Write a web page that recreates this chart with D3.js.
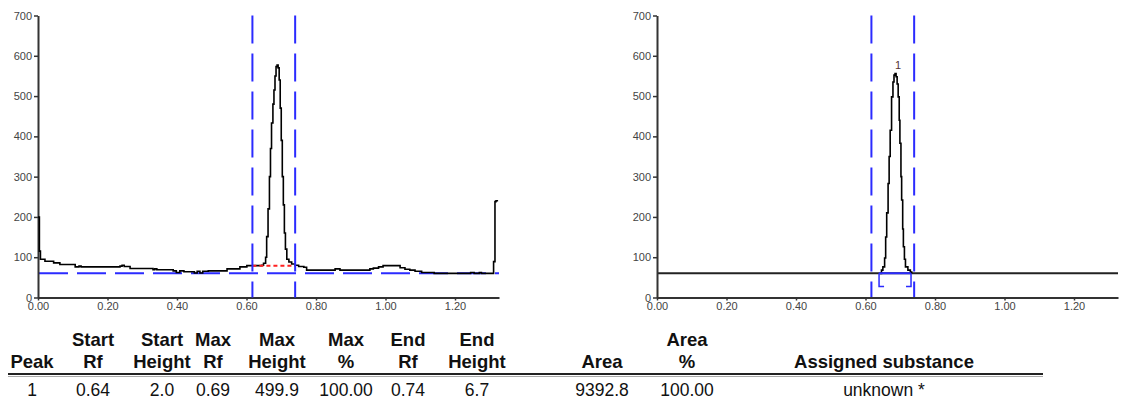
<!DOCTYPE html>
<html lang="en">
<head>
<meta charset="utf-8">
<title>Densitogram</title>
<script src="https://d3js.org/d3.v7.min.js"></script>
<style>
  body { margin: 0; background: #fff; }
  svg text { font-family: "Liberation Sans", Arial, sans-serif; }
</style>
</head>
<body>
<script>

// raw track, left panel (Rf, AU) - step data
var rawRf = [0.000, 0.004, 0.007, 0.020, 0.045, 0.063, 0.107, 0.118, 0.124, 0.236,
             0.242, 0.248, 0.265, 0.331, 0.336, 0.342, 0.389, 0.398, 0.408, 0.420,
             0.450, 0.458, 0.466, 0.474, 0.490, 0.544, 0.581, 0.601, 0.644, 0.649,
             0.655, 0.658, 0.662, 0.666, 0.669, 0.672, 0.676, 0.679, 0.682, 0.685,
             0.688, 0.691, 0.694, 0.697, 0.700, 0.703, 0.706, 0.709, 0.712, 0.716,
             0.722, 0.730, 0.740, 0.750, 0.765, 0.773, 0.855, 0.869, 0.955, 0.965,
             0.980, 0.993, 1.042, 1.056, 1.070, 1.085, 1.104, 1.140, 1.245, 1.255,
             1.270, 1.276, 1.311, 1.315, 1.318, 1.324];
var rawAU = [200, 115, 95, 90, 86, 82, 76, 78, 76, 78,
             80, 77, 72, 69, 71, 69, 66, 62, 66, 64,
             61, 65, 61, 65, 66, 71, 76, 79, 80, 85,
             100, 151, 220, 300, 370, 433, 480, 515, 550, 573,
             577, 570, 540, 470, 390, 300, 230, 160, 120, 95,
             88, 83, 80, 77, 75, 68, 71, 68, 71, 73,
             76, 79, 74, 70, 68, 65, 62, 60, 62, 60,
             62, 60, 89, 238, 240, 240];

// integrated peak, right panel (Rf, AU)
var peakRf = [0.641, 0.646, 0.650, 0.655, 0.658, 0.661, 0.665, 0.668, 0.671, 0.675,
              0.679, 0.682, 0.685, 0.688, 0.691, 0.694, 0.697, 0.699, 0.702, 0.704,
              0.707, 0.709, 0.712, 0.715, 0.722, 0.729, 0.733];
var peakAU = [60, 68, 76, 98, 150, 210, 283, 350, 415, 498,
              535, 552, 556, 548, 530, 498, 440, 383, 300, 242,
              170, 126, 95, 76, 68, 63, 60];

var baselineAU = 60;
var peakBaseAU = 79;
var windowRf = [0.617, 0.740];
var bracketRf = [0.639, 0.731];
var bracketLowAU = 27;
var peakLabel = "1";

var xTicks = [0, 0.2, 0.4, 0.6, 0.8, 1.0, 1.2];
var yTicks = [0, 100, 200, 300, 400, 500, 600, 700];

// result table
var head1 = ["", "Start", "Start", "Max", "Max", "Max", "End", "End", "", "Area", ""];
var head2 = ["Peak", "Rf", "Height", "Rf", "Height", "%", "Rf", "Height", "Area", "%", "Assigned substance"];
var row1  = ["1", "0.64", "2.0", "0.69", "499.9", "100.00", "0.74", "6.7", "9392.8", "100.00", "unknown *"];

// layout
var w = 1125, h = 401;
var yTop = 15.5, yBottom = 297.5;
var rfMax = 1.3266;
var colX = [32, 93, 162, 213, 277, 346, 408, 477, 602, 687, 884];

var blue = "#2b2bff";

var svg = d3.select("body").append("svg")
    .attr("width", w)
    .attr("height", h);

var yScale = d3.scaleLinear().domain([0, 700]).range([yBottom, yTop]);

function drawAxes(g, xScale) {
  var xa = g.append("g")
      .attr("transform", "translate(0," + yBottom + ")")
      .call(d3.axisBottom(xScale).tickValues(xTicks).tickFormat(d3.format(".2f"))
            .tickSize(3).tickSizeOuter(0).tickPadding(2));
  var ya = g.append("g")
      .attr("transform", "translate(" + xScale.range()[0] + ",0)")
      .call(d3.axisLeft(yScale).tickValues(yTicks).tickSize(4).tickSizeOuter(0).tickPadding(2));
  [xa, ya].forEach(function(a) {
    a.attr("font-family", null).attr("font-size", null);
    a.select(".domain").attr("stroke", "#333").attr("stroke-width", 2);
    a.selectAll(".tick line").attr("stroke", "#333").attr("stroke-width", 1.5);
    a.selectAll(".tick text").attr("fill", "#444").style("font-size", "11px");
  });
}

function vDashed(g, xScale) {
  g.selectAll(".win")
    .data(windowRf)
    .enter()
    .append("line")
    .attr("x1", function(d) { return xScale(d); })
    .attr("x2", function(d) { return xScale(d); })
    .attr("y1", yTop)
    .attr("y2", yBottom)
    .attr("stroke", blue)
    .attr("stroke-width", 2)
    .attr("stroke-dasharray", "28,10");
}

// ---------- left panel: raw track ----------
var xLeft = d3.scaleLinear().domain([0, rfMax]).range([38, 499]);
var gl = svg.append("g");

gl.append("line")
  .attr("x1", xLeft(0) + 1).attr("x2", xLeft(rfMax))
  .attr("y1", yScale(baselineAU)).attr("y2", yScale(baselineAU))
  .attr("stroke", blue).attr("stroke-width", 2)
  .attr("stroke-dasharray", "29,9");

var rawLine = d3.line()
    .curve(d3.curveStepAfter)
    .x(function(d, i) { return xLeft(rawRf[i]); })
    .y(function(d) { return yScale(d); });

drawAxes(gl, xLeft);

gl.append("path")
  .attr("d", rawLine(rawAU))
  .attr("fill", "none")
  .attr("stroke", "#000")
  .attr("stroke-width", 1.6);

gl.append("line")
  .attr("x1", xLeft(windowRf[0])).attr("x2", xLeft(windowRf[1]))
  .attr("y1", yScale(peakBaseAU)).attr("y2", yScale(peakBaseAU))
  .attr("stroke", "#ff2020").attr("stroke-width", 2)
  .attr("stroke-dasharray", "4,3");

vDashed(gl, xLeft);

// ---------- right panel: integrated peak ----------
var xRight = d3.scaleLinear().domain([0, rfMax]).range([657, 1118]);
var gr = svg.append("g");

gr.append("line")
  .attr("x1", xRight(0)).attr("x2", xRight(rfMax))
  .attr("y1", yScale(baselineAU)).attr("y2", yScale(baselineAU))
  .attr("stroke", "#222").attr("stroke-width", 2);

var peakLine = d3.line()
    .curve(d3.curveStepAfter)
    .x(function(d, i) { return xRight(peakRf[i]); })
    .y(function(d) { return yScale(d); });

gr.append("path")
  .attr("d", peakLine(peakAU))
  .attr("fill", "none")
  .attr("stroke", "#000")
  .attr("stroke-width", 1.6);

// integration brackets
var bx0 = xRight(bracketRf[0]), bx1 = xRight(bracketRf[1]);
var byTop = yScale(baselineAU), byLow = yScale(bracketLowAU);
gr.append("path")
  .attr("d", "M" + bx0 + "," + byTop + "H" + bx1)
  .attr("stroke", blue).attr("stroke-width", 2).attr("fill", "none");
gr.append("path")
  .attr("d", "M" + bx0 + "," + byTop + "V" + byLow + "H" + (bx0 + 5) +
             "M" + bx1 + "," + byTop + "V" + byLow + "H" + (bx1 - 5))
  .attr("stroke", blue).attr("stroke-width", 1.5).attr("fill", "none");

vDashed(gr, xRight);
drawAxes(gr, xRight);

var iMax = d3.maxIndex(peakAU);
gr.append("text")
  .attr("x", xRight(peakRf[iMax]) + 3)
  .attr("y", yScale(peakAU[iMax]) - 5)
  .attr("text-anchor", "middle")
  .attr("fill", "#533")
  .style("font-size", "11px")
  .text(peakLabel);

// ---------- result table ----------
var tbl = svg.append("g");

tbl.selectAll(".h1")
  .data(head1)
  .enter()
  .append("text")
  .attr("x", function(d, i) { return colX[i]; })
  .attr("y", 345.5)
  .attr("text-anchor", "middle")
  .attr("font-weight", "bold")
  .attr("fill", "#111")
  .style("font-size", "18.5px")
  .text(function(d) { return d; });

tbl.selectAll(".h2")
  .data(head2)
  .enter()
  .append("text")
  .attr("x", function(d, i) { return colX[i]; })
  .attr("y", 368)
  .attr("text-anchor", "middle")
  .attr("font-weight", "bold")
  .attr("fill", "#111")
  .style("font-size", "18.5px")
  .text(function(d) { return d; });

tbl.append("line")
  .attr("x1", 8).attr("x2", 1043)
  .attr("y1", 374).attr("y2", 374)
  .attr("stroke", "#222").attr("stroke-width", 2);
tbl.append("line")
  .attr("x1", 8).attr("x2", 1043)
  .attr("y1", 376.5).attr("y2", 376.5)
  .attr("stroke", "#aaa").attr("stroke-width", 1);

tbl.selectAll(".r1")
  .data(row1)
  .enter()
  .append("text")
  .attr("x", function(d, i) { return colX[i]; })
  .attr("y", 395.5)
  .attr("text-anchor", "middle")
  .attr("fill", "#111")
  .style("font-size", "17.5px")
  .text(function(d) { return d; });

</script>
</body>
</html>
